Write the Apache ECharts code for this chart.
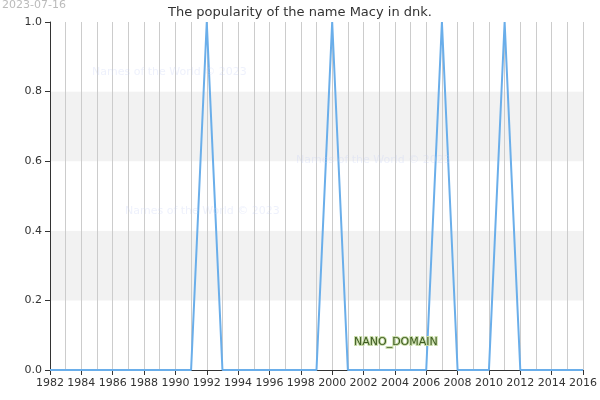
<!DOCTYPE html>
<html>
<head>
<meta charset="utf-8">
<script src="https://cdn.jsdelivr.net/npm/echarts@6/dist/echarts.min.js"></script>
</head>
<body style="margin:0">
<div id="main" style="width:600px;height:400px;"></div>
<script>
var years = [];
for (var y = 1982; y <= 2016; y++) years.push(y);
var values = [0,0,0,0,0,0,0,0,0,0,1,0,0,0,0,0,0,0,1,0,0,0,0,0,0,1,0,0,0,1,0,0,0,0,0];
var data = years.map(function (yr, i) { return [yr, values[i]]; });

var chart = echarts.init(document.getElementById('main'));
var wmColor = 'rgba(200,210,245,0.3)';
chart.setOption({
  animation: false,
  title: {text: 'The popularity of the name Macy in dnk.', left: 'center', top: 1,
    textStyle: {fontSize: 13, fontWeight: 'normal', color: '#333', fontFamily: 'DejaVu Sans'}},
  graphic: [
    {type: 'text', z: 100, left: 2, top: 0, style: {text: '2023-07-16', fill: '#bbb', fontSize: 11, fontFamily: 'DejaVu Sans'}},
    {type: 'text', z: 100, left: 92, top: 67, style: {text: 'Names of the World \u00a9 2023', fill: wmColor, fontSize: 11, fontFamily: 'DejaVu Sans'}},
    {type: 'text', z: 100, left: 296, top: 155, style: {text: 'Names of the World \u00a9 2023', fill: wmColor, fontSize: 11, fontFamily: 'DejaVu Sans'}},
    {type: 'text', z: 100, left: 125, top: 206, style: {text: 'Names of the World \u00a9 2023', fill: wmColor, fontSize: 11, fontFamily: 'DejaVu Sans'}},
    {type: 'text', z: 100, left: 353, top: 336, style: {text: 'NANO_DOMAIN', fill: '#3d5a22', stroke: '#c8dca8', lineWidth: 2, fontSize: 11, fontFamily: 'DejaVu Sans'}}
  ],
  grid: {left: 50, right: 14, top: 22, bottom: 30},
  xAxis: {type: 'value', min: 1982, max: 2016, interval: 2,
    axisLine: {lineStyle: {color: '#333'}}, axisTick: {show: true, lineStyle: {color: '#333'}},
    axisLabel: {color: '#333', fontSize: 11, fontFamily: 'DejaVu Sans', showMinLabel: true, showMaxLabel: true,
      formatter: function (v) { return String(v); }},
    splitLine: {show: true, lineStyle: {color: '#ccc'}},
    minorTick: {show: false, splitNumber: 2},
    minorSplitLine: {show: true, lineStyle: {color: '#ccc'}}},
  yAxis: {type: 'value', min: 0, max: 1, interval: 0.2,
    axisLine: {show: true, lineStyle: {color: '#333'}}, axisTick: {show: true},
    axisLabel: {color: '#333', fontSize: 11, fontFamily: 'DejaVu Sans', formatter: function (v) { return v.toFixed(1); }},
    splitLine: {show: false},
    splitArea: {show: true, areaStyle: {color: ['#ffffff', '#f2f2f2']}}},
  series: [{type: 'line', data: data, symbol: 'none', lineStyle: {color: '#6aaeea', width: 2}}]
});
</script>
</body>
</html>
